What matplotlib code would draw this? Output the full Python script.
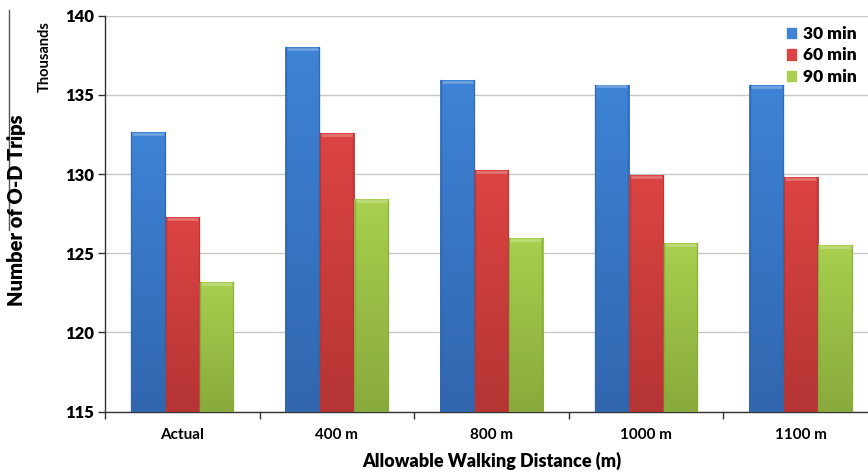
"""Grouped bar chart of O-D trips by allowable walking distance and time budget."""

import matplotlib.pyplot as plt
import numpy as np
from matplotlib.colors import LinearSegmentedColormap
from matplotlib.lines import Line2D

plt.rcParams["font.family"] = ["Lato", "DejaVu Sans"]

categories = ["Actual", "400 m", "800 m", "1000 m", "1100 m"]
series_names = ["30 min", "60 min", "90 min"]
trips_30 = [132.67, 138.04, 135.95, 135.65, 135.59]
trips_60 = [127.30, 132.58, 130.25, 129.94, 129.83]
trips_90 = [123.20, 128.42, 125.95, 125.63, 125.53]
y_ticks = [115, 120, 125, 130, 135, 140]

# light top / darker bottom for the shaded bar fill
shades = [
    ("#3E83D6", "#3166AE"),
    ("#DC4443", "#B43534"),
    ("#A8CF4E", "#88AA3C"),
]

fig = plt.figure(figsize=(8.68, 4.72), dpi=100)
ax = fig.add_axes([105 / 868, 1 - 411.6 / 472, 773 / 868, 396 / 472])

x = np.arange(len(categories))
width = 0.222
offsets = [-width, 0, width]

for values, off, (light, dark), name in zip([trips_30, trips_60, trips_90], offsets, shades, series_names):
    bars = ax.bar(x + off, np.array(values) - y_ticks[0], width, bottom=y_ticks[0],
                  color=dark, edgecolor="none", label=name, zorder=2)
    cmap = LinearSegmentedColormap.from_list(name, [dark, light])
    grad = np.linspace(0, 1, 200).reshape(-1, 1)
    for bar in bars:
        x0, y0 = bar.get_x(), bar.get_y()
        w, h = bar.get_width(), bar.get_height()
        img = ax.imshow(grad, cmap=cmap, extent=[x0, x0 + w, y0, y0 + h],
                        origin="lower", aspect="auto", zorder=3, interpolation="bilinear")
        img.set_clip_path(bar)
        # thin bevel on top and sides
        ax.plot([x0 + 0.01, x0 + w - 0.01], [y0 + h - 0.12] * 2, color="white", lw=2.0,
                alpha=0.25, zorder=4, solid_capstyle="butt")
        ax.plot([x0 + 0.004] * 2, [y0, y0 + h], color=dark, lw=1.0, alpha=0.8, zorder=4)
        ax.plot([x0 + w - 0.004] * 2, [y0, y0 + h], color=dark, lw=1.0, alpha=0.8, zorder=4)

ax.set_xlim(-0.5, len(categories) - 0.5)
ax.set_ylim(115, 140)
ax.set_yticks(y_ticks)
ax.set_yticklabels([str(t) for t in y_ticks], fontsize=12, fontweight="heavy")
ax.set_xticks(x)
ax.set_xticklabels(categories, fontsize=11, fontweight="bold")
ax.set_xticks(np.arange(len(categories) + 1) - 0.5, minor=True)
ax.tick_params(axis="x", which="major", length=0, pad=12)
ax.tick_params(axis="x", which="minor", length=5, width=1, color="#333333", direction="out")
ax.tick_params(axis="y", length=5, width=1, color="#333333", direction="out", pad=3)

ax.grid(axis="y", color="#C8C8C8", lw=1, zorder=0)
ax.set_axisbelow(True)
for side in ["top", "right"]:
    ax.spines[side].set_visible(False)
for side in ["left", "bottom"]:
    ax.spines[side].set_color("#333333")
    ax.spines[side].set_linewidth(1)

ax.set_xlabel("Allowable Walking Distance (m)", fontsize=13, fontweight="heavy", labelpad=7)
fig.text(17 / 868, 1 - 210 / 472, "Number of O-D Trips", rotation=90, ha="center", va="center",
         fontsize=14.5, fontweight="heavy")
fig.text(45 / 868, 1 - 57 / 472, "Thousands", rotation=90, ha="center", va="center",
         fontsize=10.5, fontweight="bold")
fig.add_artist(Line2D([9 / 868, 9 / 868], [1 - 10 / 472, 1 - 230 / 472], color="#555555", lw=1))

handles = [plt.Rectangle((0, 0), 1, 1, color=light) for light, _ in shades]
ax.legend(handles, series_names, loc="upper right", bbox_to_anchor=(864 / 868, 1 - 19 / 472),
          bbox_transform=fig.transFigure, frameon=False,
          prop={"weight": "heavy", "size": 12.5}, handlelength=0.55, handleheight=0.55,
          handletextpad=0.4, labelspacing=0.32, borderaxespad=0)

fig.savefig("out.png", dpi=100)
